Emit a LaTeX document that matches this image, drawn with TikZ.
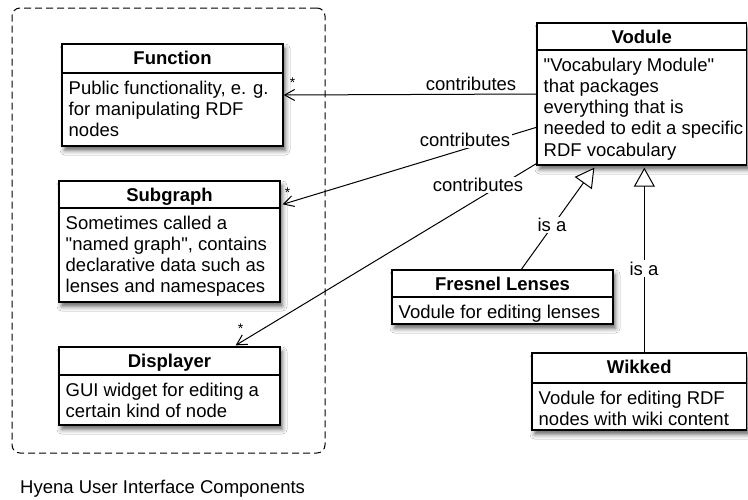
\documentclass[tikz,border=0pt]{standalone}
\usepackage{fontspec}
\setmainfont{Liberation Sans}[Ligatures=TeXOff]
\usetikzlibrary{arrows.meta,calc,fit,shadows.blur}
\tikzset{
  clsbox/.style={draw, line width=1.3pt, fill=white, inner sep=0pt,
    blur shadow={shadow xshift=2.5pt, shadow yshift=-4.5pt, shadow blur radius=4.5pt, shadow opacity=60}},
  clsline/.style={line width=1.1pt},
  clstitle/.style={inner sep=0pt, font=\fontsize{18.5}{21.2}\selectfont\bfseries},
  clsbody/.style={inner sep=0pt, align=left, font=\fontsize{18.5}{21.2}\selectfont},
  lbl/.style={inner sep=1.5pt, fill=white, font=\fontsize{18.5}{21.2}\selectfont},
  starlbl/.style={inner sep=0pt, font=\fontsize{14}{14}\selectfont},
  contrib/.style={line width=1pt, -{Straight Barb[length=10pt,width=11pt,line width=1pt]}},
  isa/.style={line width=1pt, -{Triangle[length=19pt,width=21pt,line width=1pt,fill=white]}},
  container/.style={draw, line width=1pt, dash pattern=on 7pt off 4pt, rounded corners=8pt, inner sep=0pt}
}
% #1 name, #2 left, #3 top, #4 right, #5 bottom, #6 divider y, #7 title, #8 body
\newcommand\umlcls[8]{%
  \node[clsbox, fit={(#2,#3) (#4,#5)}] (#1) {};
  \draw[clsline] (#2,#6) -- (#4,#6);
  \node[clstitle, anchor=base] (#1-t) at ({(#2+#4)/2},{#3+20}) {#7};
  \node[clsbody, anchor=north west] (#1-b) at ({#2+6.5},{#6+21-14}) {\rule{0pt}{14pt}#8};
}
\begin{document}
\begin{tikzpicture}[x=1pt, y=-1pt]
\useasboundingbox (0,0) rectangle (748,499);
\fill[white] (0,0) rectangle (748,499);

\node[container, fit={(12,8) (325,453)}] (hyena) {};
\node[inner sep=0pt, anchor=base west, font=\fontsize{18.5}{21.2}\selectfont] (hyenalbl) at (20,493) {Hyena User Interface Components};

\umlcls{fn}{62}{44}{283}{146}{73}{Function}{Public functionality, e. g.\\for manipulating RDF\\nodes}
\umlcls{sg}{59}{181}{280}{302}{208}{Subgraph}{Sometimes called a\\"named graph", contains\\declarative data such as\\lenses and namespaces}
\umlcls{dp}{59}{347}{280}{425}{375}{Displayer}{GUI widget for editing a\\certain kind of node}
\umlcls{vod}{537}{23}{746.5}{165}{50}{Vodule}{"Vocabulary Module"\\that packages\\everything that is\\needed to edit a specific\\RDF vocabulary}
\umlcls{fr}{392}{270}{613}{324}{297}{Fresnel Lenses}{Vodule for editing lenses}
\umlcls{wk}{532}{353}{746.5}{430}{383}{Wikked}{Vodule for editing RDF\\nodes with wiki content}

% contributes connectors
\draw[contrib] (vod.west) -- (fn.east);
\node[lbl, fill=none, anchor=base] (c1) at (471,90) {contributes};
\node[starlbl] (s1) at (292.5,83) {*};

\draw[contrib] ($(vod.north west)+(0,105)$) -- ($(sg.north east)+(2,24)$);
\node[lbl, anchor=base] (c2) at (465,146.7) {contributes};
\node[starlbl] (s2) at (287.5,193) {*};

\draw[contrib] ($(vod.south west)+(0,-2)$) -- ($(dp.north east)+(-45,-1)$);
\node[lbl, anchor=base] (c3) at (478,191.7) {contributes};
\node[starlbl] (s3) at (240.7,329) {*};

% generalisations
\draw[isa] ($(fr.north west)+(130,0)$) -- ($(vod.south west)+(58,2)$);
\node[lbl, anchor=base] (i1) at (552,231.7) {is a};
\draw[isa] ($(wk.north west)+(113,0)$) -- ($(vod.south west)+(108,2)$);
\node[lbl, anchor=base] (i2) at (644,275) {is a};
\end{tikzpicture}
\end{document}
